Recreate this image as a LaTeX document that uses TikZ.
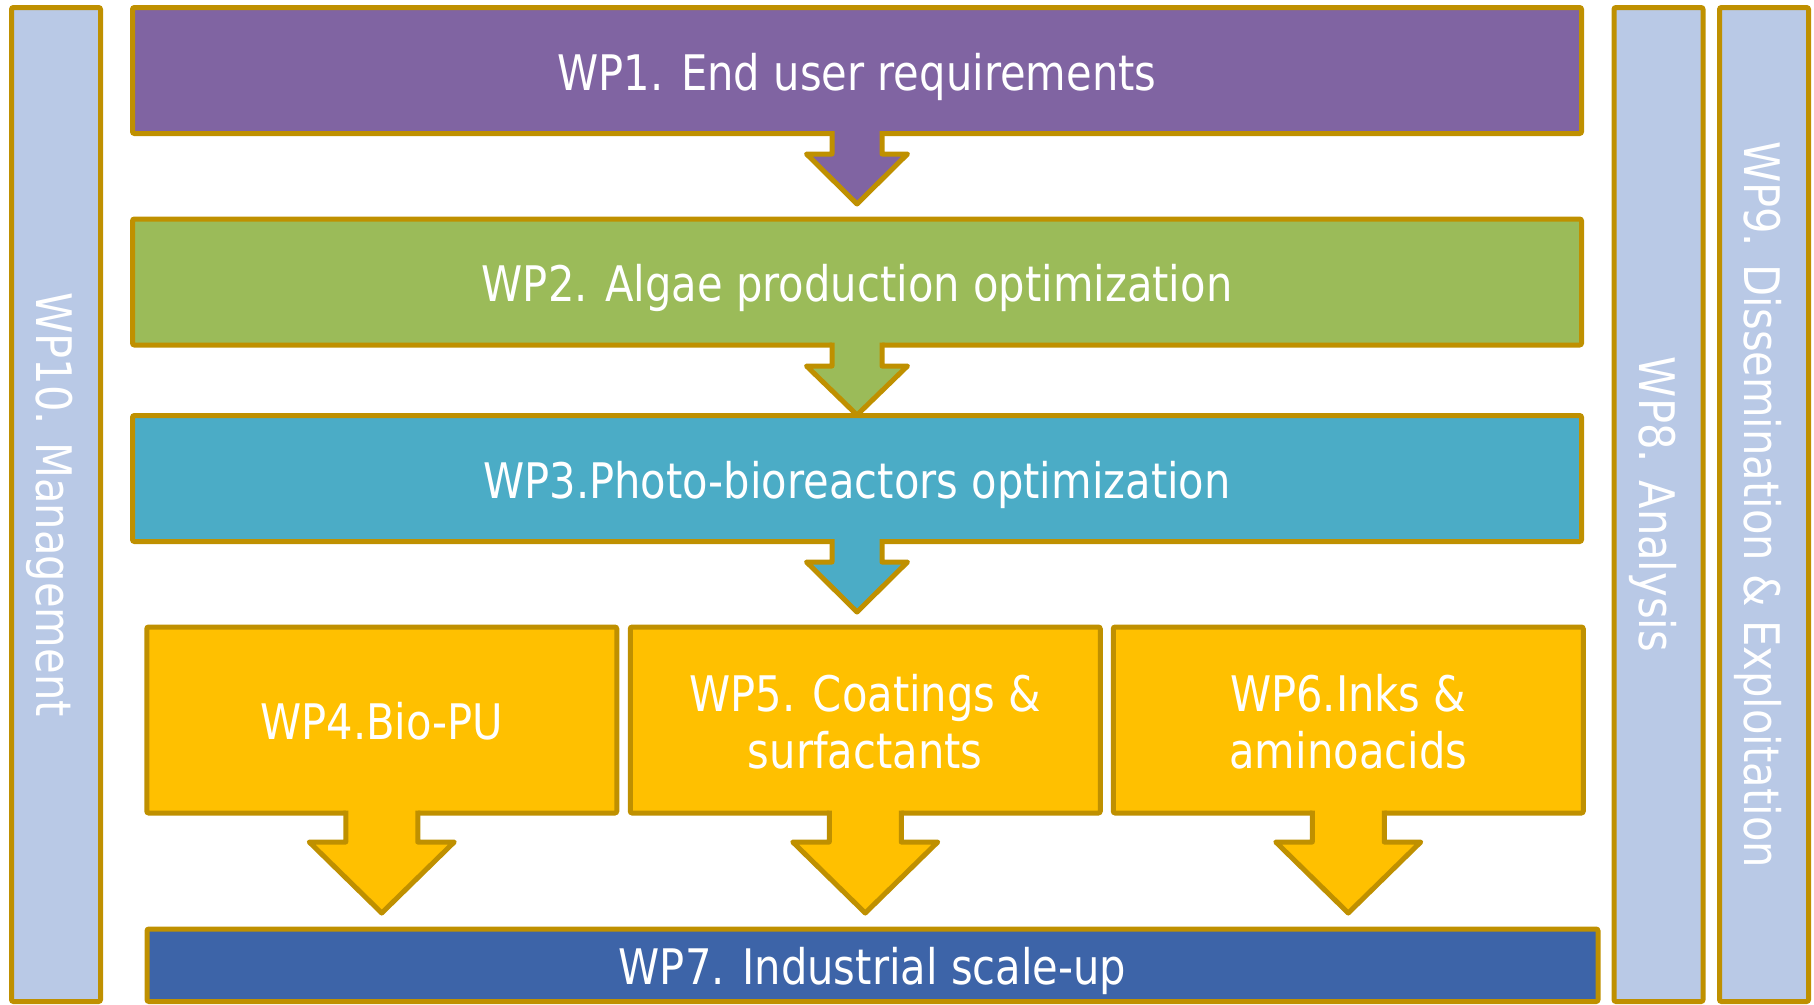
\documentclass[tikz,border=0pt]{standalone}
\usepackage{fontspec}
\setmainfont{DejaVu Sans}[FakeStretch=0.85]
\usetikzlibrary{calc}
\definecolor{bordc}{HTML}{BF9000}
\definecolor{wpone}{HTML}{8064A2}
\definecolor{wptwo}{HTML}{9BBB59}
\definecolor{wpthree}{HTML}{4BACC6}
\definecolor{wpgold}{HTML}{FFC000}
\definecolor{wpseven}{HTML}{3D64A8}
\definecolor{wpside}{HTML}{B9C9E6}
% #1 node, #2 shaft half width, #3 head half width, #4 shaft length, #5 head length, #6 fill colour
\newcommand\wparrow[6]{%
  \fill[#6] ($(#1.south)+(-#2,-3)$) -- ($(#1.south)+(-#2,#4)$) -- ($(#1.south)+(-#3,#4)$)
     -- ($(#1.south)+(0,#4+#5)$) -- ($(#1.south)+(#3,#4)$) -- ($(#1.south)+(#2,#4)$)
     -- ($(#1.south)+(#2,-3)$) -- cycle;
  \draw[arrowline] ($(#1.south)+(-#2,-2.5)$) -- ($(#1.south)+(-#2,#4)$) -- ($(#1.south)+(-#3,#4)$)
     -- ($(#1.south)+(0,#4+#5)$) -- ($(#1.south)+(#3,#4)$) -- ($(#1.south)+(#2,#4)$)
     -- ($(#1.south)+(#2,-2.5)$);
}
\begin{document}
\begin{tikzpicture}[x=1pt,y=-1pt,
  wpbox/.style={rectangle,draw=bordc,line width=5pt,rounded corners=2pt,inner sep=0pt,outer sep=0pt},
  wptext/.style={text=white,font=\fontsize{49pt}{57pt}\selectfont,inner sep=0pt,align=center},
  arrowline/.style={draw=bordc,line width=5pt,line join=round},
]
\useasboundingbox (0,0) rectangle (1814,1004);
\clip (0,0) rectangle (1814,1004);

% side bars
\node[wpbox,fill=wpside,minimum width=89pt,minimum height=994pt] (wp10) at (56,504.5) {};
\node[wpbox,fill=wpside,minimum width=89pt,minimum height=994pt] (wp8) at (1658.5,504.5) {};
\node[wpbox,fill=wpside,minimum width=89pt,minimum height=994pt] (wp9) at (1764,504.5) {};
\node[wptext,anchor=base,rotate=-90] (wp10t) at ($(wp10.center)+(-19.5,0)$) {WP10. Management};
\node[wptext,anchor=base,rotate=-90] (wp8t) at ($(wp8.center)+(-19.5,0)$) {WP8. Analysis};
\node[wptext,anchor=base,rotate=-90] (wp9t) at ($(wp9.center)+(-19.5,0)$) {WP9. Dissemination \& Exploitation};

% main chain
\node[wpbox,fill=wpone,minimum width=1449pt,minimum height=126pt] (wp1) at (857,70.5) {};
\node[wpbox,fill=wptwo,minimum width=1449pt,minimum height=126pt] (wp2) at (857,282) {};
\node[wpbox,fill=wpthree,minimum width=1449pt,minimum height=126pt] (wp3) at (857,478.5) {};
\node[wpbox,fill=wpgold,minimum width=470pt,minimum height=186pt] (wp4) at (381.75,720) {};
\node[wpbox,fill=wpgold,minimum width=470pt,minimum height=186pt] (wp5) at (865.25,720) {};
\node[wpbox,fill=wpgold,minimum width=470pt,minimum height=186pt] (wp6) at (1348.25,720) {};
\node[wpbox,fill=wpseven,minimum width=1451pt,minimum height=72.5pt] (wp7) at (872.5,965.25) {};

% block arrows
\wparrow{wp1}{25}{50.5}{20.5}{50}{wpone}
\wparrow{wp2}{25}{50.5}{21}{49}{wptwo}
\wparrow{wp3}{25}{50.5}{20.5}{50}{wpthree}
\wparrow{wp4}{36}{72.5}{29}{71}{wpgold}
\wparrow{wp5}{36}{72.5}{29}{71}{wpgold}
\wparrow{wp6}{36}{72.5}{29}{71}{wpgold}

% texts
\node[wptext,anchor=base] (wp1t) at ($(wp1.center)+(0,19.5)$) {WP1. End user requirements};
\node[wptext,anchor=base] (wp2t) at ($(wp2.center)+(0,19.5)$) {WP2. Algae production optimization};
\node[wptext,anchor=base] (wp3t) at ($(wp3.center)+(0,19.5)$) {WP3.Photo-bioreactors optimization};
\node[wptext,anchor=base] (wp4t) at ($(wp4.center)+(0,19.5)$) {WP4.Bio-PU};
\node[wptext] (wp5t) at ($(wp5.center)+(0,1.5)$) {WP5. Coatings \&\\surfactants};
\node[wptext] (wp6t) at ($(wp6.center)+(0,1.5)$) {WP6.Inks \&\\aminoacids};
\node[wptext,anchor=base] (wp7t) at ($(wp7.center)+(0,19.5)$) {WP7. Industrial scale-up};
\end{tikzpicture}
\end{document}
